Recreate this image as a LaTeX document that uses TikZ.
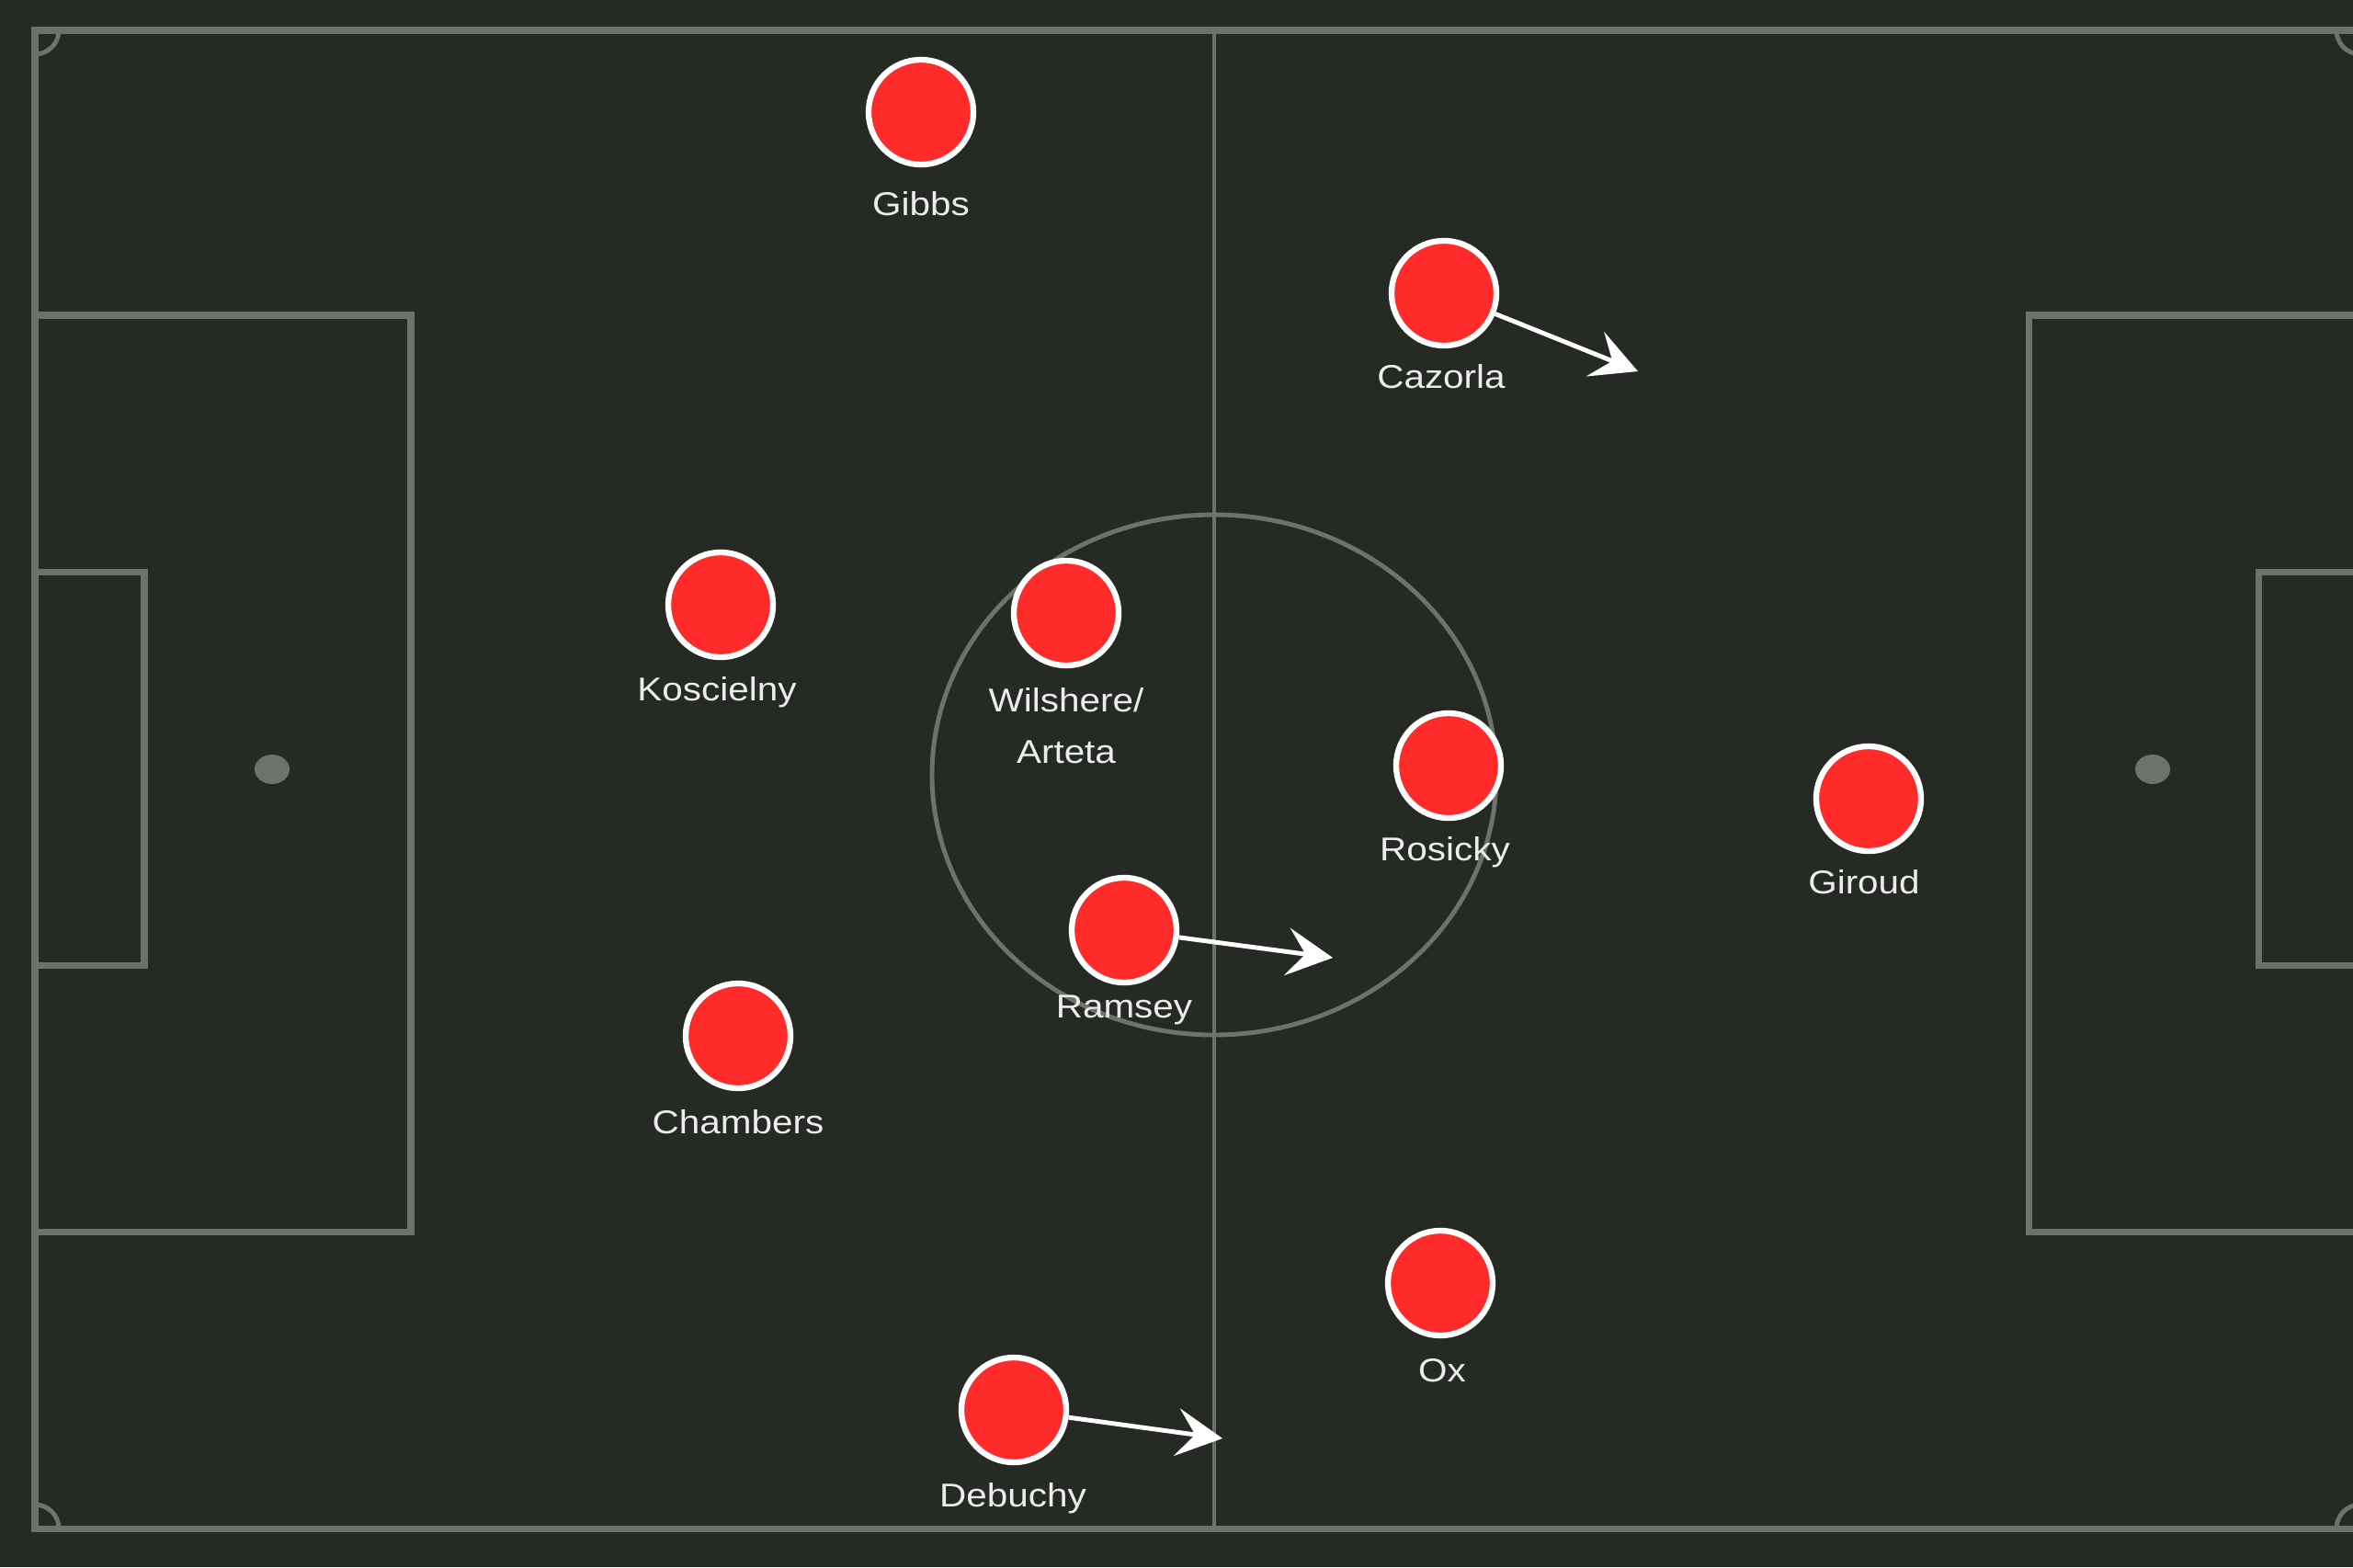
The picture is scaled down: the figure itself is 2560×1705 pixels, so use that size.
\documentclass[tikz,border=0pt]{standalone}
\usepackage{fontspec}
\setmainfont{Liberation Sans}
\usetikzlibrary{arrows.meta}
\definecolor{pitchbg}{HTML}{262A25}
\definecolor{pitchline}{HTML}{6D726C}
\definecolor{playerred}{HTML}{FF2A2A}
\definecolor{labeltext}{HTML}{ECECEC}
\newcommand{\plbl}[1]{\scalebox{1.15}[1.02]{#1}}
\tikzset{
  pline/.style={draw=pitchline, line width=2pt},
  thinline/.style={draw=pitchline, line width=1.1pt},
  player/.style={circle, fill=playerred, draw=white, line width=1.8pt, minimum size=1.14cm, inner sep=0pt},
  plabel/.style={text=labeltext, font=\fontsize{10}{16}\selectfont, inner sep=0pt, align=center},
  runarrow/.style={draw=white, line width=1.4pt, -{Stealth[length=0.5cm, width=0.52cm, inset=0.2cm]}},
}
\begin{document}
\begin{tikzpicture}[x=0.01cm, y=-0.01cm]
\useasboundingbox (0,0) rectangle (2560,1705);
\fill[pitchbg] (0,0) rectangle (2560,1705);
% outer lines
\draw[pline] (2600,33) -- (38,33) -- (38,1663) -- (2600,1663);
% halfway line and centre circle
\draw[thinline] (1321,33) -- (1321,1663);
\draw[pitchline, line width=1.4pt] (1321,843) ellipse [x radius=307, y radius=283];
% left boxes
\draw[pline] (38,343) -- (447,343) -- (447,1340) -- (38,1340);
\draw[pline] (38,622) -- (157,622) -- (157,1050) -- (38,1050);
\fill[pitchline] (296,837) ellipse [x radius=19, y radius=16];
% right boxes
\draw[pline] (2600,343) -- (2207,343) -- (2207,1340) -- (2600,1340);
\draw[pline] (2600,622) -- (2457,622) -- (2457,1050) -- (2600,1050);
\fill[pitchline] (2342,837) ellipse [x radius=19, y radius=16];
% corner arcs
\draw[pitchline, line width=1.4pt] (64,33) arc [start angle=0, end angle=-90, radius=0.26cm];
\draw[pitchline, line width=1.4pt] (38,1637) arc [start angle=90, end angle=0, radius=0.26cm];
\draw[pitchline, line width=1.4pt] (2542,33) arc [start angle=180, end angle=270, radius=0.26cm];
\draw[pitchline, line width=1.4pt] (2542,1663) arc [start angle=180, end angle=90, radius=0.26cm];

% players
\node[player] (gibbs) at (1002,122) {};
\node[player] (cazorla) at (1571,319) {};
\node[player] (koscielny) at (784,658) {};
\node[player] (wilshere) at (1160,667) {};
\node[player] (rosicky) at (1576,833) {};
\node[player] (giroud) at (2033,869) {};
\node[player] (ramsey) at (1223,1012) {};
\node[player] (chambers) at (803,1127) {};
\node[player] (ox) at (1567,1396) {};
\node[player] (debuchy) at (1103,1534) {};

% labels
\node[plabel] (gibbsL) at (1002,222) {\plbl{Gibbs}};
\node[plabel] (cazorlaL) at (1568,410) {\plbl{Cazorla}};
\node[plabel] (koscielnyL) at (780,753) {\plbl{Koscielny}};
\node[plabel] (wilshereL) at (1160,790) {\plbl{Wilshere/}\\\plbl{Arteta}};
\node[plabel] (rosickyL) at (1572,927) {\plbl{Rosicky}};
\node[plabel] (giroudL) at (2028,960) {\plbl{Giroud}};
\node[plabel] (ramseyL) at (1223,1099) {\plbl{Ramsey}};
\node[plabel] (chambersL) at (803,1221) {\plbl{Chambers}};
\node[plabel] (oxL) at (1569,1491) {\plbl{Ox}};
\node[plabel] (debuchyL) at (1102,1630) {\plbl{Debuchy}};

% runs
\coordinate (cazorlaE) at (1782,404);
\coordinate (ramseyE) at (1450,1042);
\coordinate (debuchyE) at (1330,1565);
\draw[runarrow] (cazorla) -- (cazorlaE);
\draw[runarrow] (ramsey) -- (ramseyE);
\draw[runarrow] (debuchy) -- (debuchyE);
\end{tikzpicture}
\end{document}
